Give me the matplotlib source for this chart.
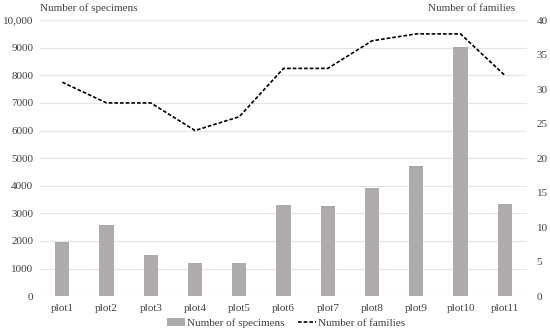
import matplotlib.pyplot as plt
import numpy as np
from matplotlib.ticker import FuncFormatter

plt.rcParams['font.family'] = ['Liberation Serif', 'DejaVu Serif']

plots = ["plot1", "plot2", "plot3", "plot4", "plot5", "plot6",
         "plot7", "plot8", "plot9", "plot10", "plot11"]
specimens = [1960, 2580, 1480, 1200, 1200, 3300, 3270, 3920, 4700, 9020, 3320]
families = [31, 28, 28, 24, 26, 33, 33, 37, 38, 38, 32]

BAR_COLOR = "#AFABAB"
GRID_COLOR = "#E4E4E4"
TEXT_COLOR = "#404040"

fig = plt.figure(figsize=(5.5, 3.35), dpi=100)
ax = fig.add_axes([0.073, 0.116, 0.885, 0.824])
ax2 = ax.twinx()

x = np.arange(len(plots))
bars = ax.bar(x, specimens, width=0.32, color=BAR_COLOR, label="Number of specimens", zorder=2)
line, = ax2.plot(x, families, color="black", linestyle=(0, (2.2, 1.2)), linewidth=1.2,
                 label="Number of families", zorder=3)

ax.set_ylim(0, 10000)
ax.set_yticks(range(0, 10001, 1000))
ax.yaxis.set_major_formatter(FuncFormatter(lambda v, p: "10,000" if v == 10000 else f"{int(v)}"))
ax2.set_ylim(0, 40)
ax2.set_yticks(range(0, 41, 5))
ax.set_xlim(-0.5, len(plots) - 0.5)
ax.set_xticks(x)
ax.set_xticklabels(plots)

ax.grid(axis="y", color=GRID_COLOR, linewidth=0.8, zorder=0)
ax.set_axisbelow(True)
for a in (ax, ax2):
    for s in a.spines.values():
        s.set_visible(False)
    a.tick_params(length=0, labelsize=8, colors=TEXT_COLOR)
ax.tick_params(axis="y", pad=5)
ax2.tick_params(axis="y", pad=7)
ax.tick_params(axis="x", pad=6)

fig.text(0.073, 0.975, "Number of specimens", fontsize=8, color=TEXT_COLOR, va="center", ha="left")
fig.text(0.937, 0.975, "Number of families", fontsize=8, color=TEXT_COLOR, va="center", ha="right")

fig.legend(handles=[bars, line], loc="center", bbox_to_anchor=(0.52, 0.035), ncol=2,
           frameon=False, fontsize=8, handlelength=1.6, handletextpad=0.2,
           columnspacing=1.2, labelcolor=TEXT_COLOR)

fig.savefig("out.png", dpi=100)
